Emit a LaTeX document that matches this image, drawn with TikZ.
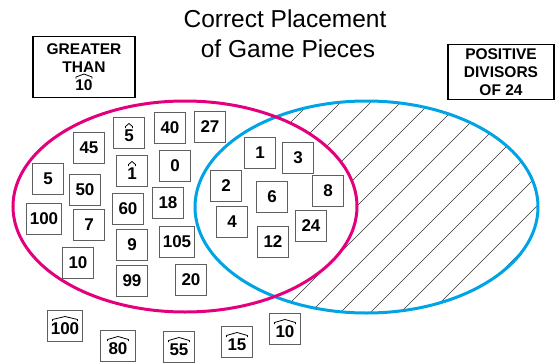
\documentclass[tikz,border=0pt]{standalone}
\usepackage{fontspec}
\setmainfont{Liberation Sans}
\usetikzlibrary{calc}
\definecolor{magC}{RGB}{228,0,124}
\definecolor{bluC}{RGB}{0,164,228}
\definecolor{boxgray}{RGB}{95,95,95}
\newcommand\dn[1]{\rule{0pt}{16.2pt}#1}
\newcommand\hatat[3]{%
  \draw[hatln] ($(#1.center)+(-#2,#3)$) -- ++(0,-1.5) -- ($(#1.center)+(0,{#3-4.5})$)
    -- ($(#1.center)+(#2,{#3-1.5})$) -- ++(0,1.5);}
\begin{document}
\begin{tikzpicture}[x=1pt,y=-1pt,
  num/.style={draw=boxgray, line width=1.3pt, fill=white, minimum width=31pt, minimum height=31pt, inner xsep=3pt, inner ysep=2.5pt, font=\fontsize{17}{20}\selectfont\bfseries},
  lbl/.style={draw=black, line width=1.8pt, fill=white, align=center, inner sep=0pt, font=\fontsize{15.5}{18}\selectfont\bfseries},
  ttl/.style={font=\fontsize{24.5}{30}\selectfont, anchor=base, inner sep=0pt},
  hatch/.style={line width=0.6pt, black!80},
  hatln/.style={line width=0.8pt, black, line join=round},
  ringM/.style={draw=magC, line width=3pt},
  ringB/.style={draw=bluC, line width=3pt}]
\useasboundingbox (0,0) rectangle (555,362);

% title
\node[ttl] (t1) at (285,27) {Correct Placement};
\node[ttl] (t2) at (288,57) {of Game Pieces};

% hatching: blue minus magenta
\begin{scope}
  \clip (366.5,207) ellipse [x radius=171.5pt, y radius=106pt];
  \foreach \k in {-12,...,12} \draw[hatch] ({593+30*\k-400},400) -- ++(600,-600);
\end{scope}
\fill[white] (185,206.5) ellipse [x radius=172pt, y radius=105.5pt];

% sets
\draw[ringB] (366.5,207) ellipse [x radius=171.5pt, y radius=106pt];
\draw[ringM] (185,206.5) ellipse [x radius=172pt, y radius=105.5pt];

% labels
\node[lbl, minimum width=102pt, minimum height=61pt] (gt) at (84,67) {GREATER\\THAN\\10};
\hatat{gt}{8}{11.5}
\node[lbl, minimum width=106pt, minimum height=55pt] (pd) at (501,72) {POSITIVE\\DIVISORS\\OF 24};

% pieces
\node[num] (n45) at (89,148) {45};
\node[num] (h5) at (129,133) {\dn{5}};
\node[num] (n40) at (170,128) {40};
\node[num] (n27) at (210,127) {27};
\node[num] (n5) at (48,179) {5};
\node[num] (n50) at (85,190) {50};
\node[num] (h1) at (132,171) {\dn{1}};
\node[num] (n0) at (175,166) {0};
\node[num] (n100) at (44,219) {100};
\node[num] (n7) at (89,225) {7};
\node[num] (n60) at (128,209) {60};
\node[num] (n18) at (168,203) {18};
\node[num] (n9) at (132,245) {9};
\node[num] (n105) at (177,242) {105};
\node[num] (n10) at (78,263) {10};
\node[num] (n99) at (132,281) {99};
\node[num] (n20) at (191,280) {20};
\node[num] (d1) at (260,153) {1};
\node[num] (d3) at (298,158) {3};
\node[num] (d2) at (226,186) {2};
\node[num] (d6) at (272,197) {6};
\node[num] (d8) at (328,191) {8};
\node[num] (d4) at (232,222) {4};
\node[num] (d12) at (273,242) {12};
\node[num] (d24) at (311,226) {24};
\node[num] (h100) at (65,326) {\dn{100}};
\node[num, minimum width=35pt] (h80) at (118,346) {\dn{80}};
\node[num] (h55) at (179,347) {\dn{55}};
\node[num] (h15) at (237,342) {\dn{15}};
\node[num] (h10) at (285,329) {\dn{10}};

% hats
\hatat{h5}{3.5}{-5}
\hatat{h1}{3.5}{-5}
\hatat{h100}{12.5}{-5}
\hatat{h80}{10.5}{-5}
\hatat{h55}{10.5}{-5}
\hatat{h15}{10.5}{-5}
\hatat{h10}{10.5}{-5}
\end{tikzpicture}
\end{document}
